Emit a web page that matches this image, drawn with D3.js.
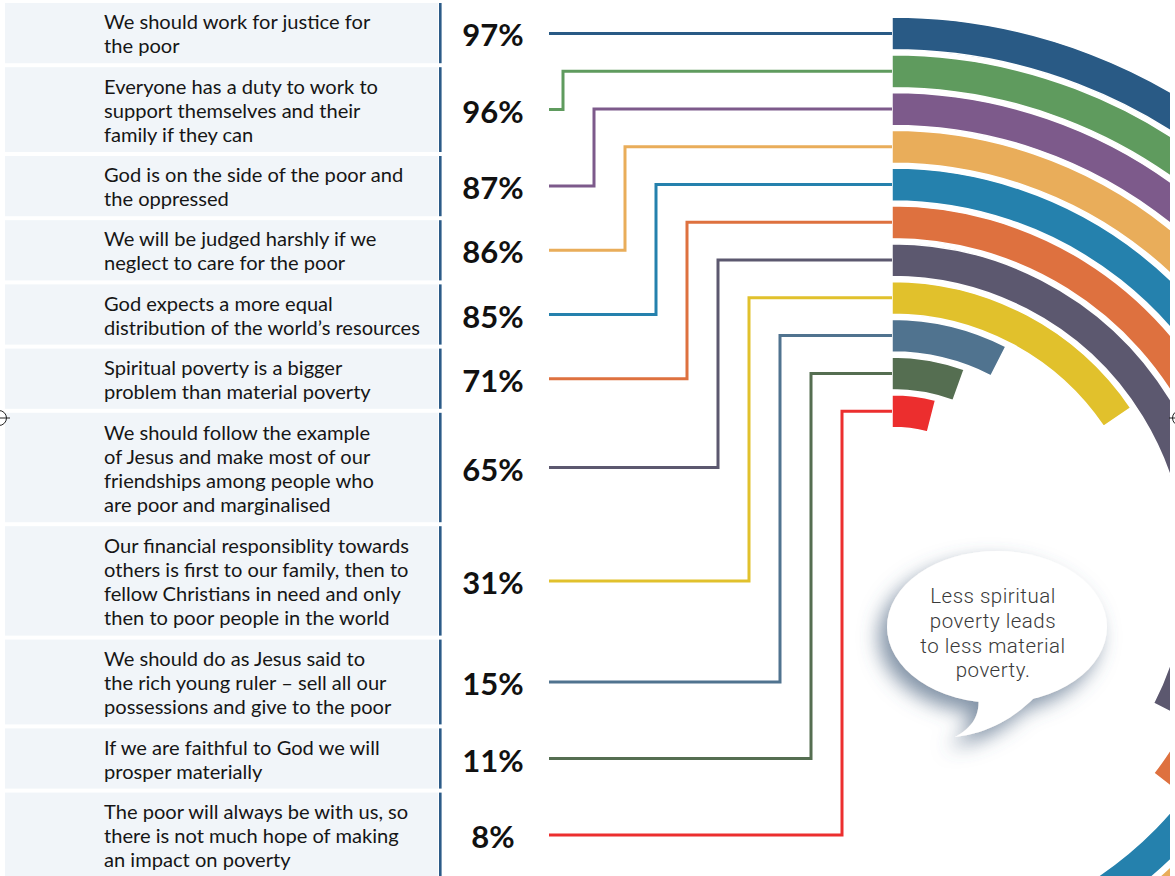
<!DOCTYPE html>
<html>
<head>
<meta charset="utf-8">
<script src="https://cdn.jsdelivr.net/npm/d3@7"></script>
<style>
  html, body { margin: 0; padding: 0; background: #fff; }
  svg { display: block; }
</style>
</head>
<body>
<svg id="chart" width="1175" height="876"></svg>
<script>
// ---------------- DATA ----------------
const categories = [
  ["We should work for justice for", "the poor"],
  ["Everyone has a duty to work to", "support themselves and their", "family if they can"],
  ["God is on the side of the poor and", "the oppressed"],
  ["We will be judged harshly if we", "neglect to care for the poor"],
  ["God expects a more equal", "distribution of the world’s resources"],
  ["Spiritual poverty is a bigger", "problem than material poverty"],
  ["We should follow the example", "of Jesus and make most of our", "friendships among people who", "are poor and marginalised"],
  ["Our financial responsiblity towards", "others is first to our family, then to", "fellow Christians in need and only", "then to poor people in the world"],
  ["We should do as Jesus said to", "the rich young ruler – sell all our", "possessions and give to the poor"],
  ["If we are faithful to God we will", "prosper materially"],
  ["The poor will always be with us, so", "there is not much hope of making", "an impact on poverty"]
];
const values = [97, 96, 87, 86, 85, 71, 65, 31, 15, 11, 8];
const colors = ["#295a85", "#5f9b5e", "#7d5a8b", "#e9ad5a", "#2581ad", "#de713f", "#5c586f", "#e1c12c", "#50738f", "#556e51", "#ec2e2e"];
const valueLabels = values.map(v => v + "%");
const bubbleLines = ["Less spiritual", "poverty leads", "to less material", "poverty."];

// ---------------- LAYOUT ----------------
const svg = d3.select("#chart");
const defs = svg.append("defs");
const n = categories.length;

// table rows
const lineH = 24;
let rowTop = 3;
const rows = categories.map((lines, i) => {
  const h = 24.6 * lines.length + 11;
  const r = { i, lines, y0: rowTop, h, cy: rowTop + h / 2 };
  rowTop += h + 4;
  return r;
});

const table = svg.append("g");
table.selectAll("rect.row").data(rows).join("rect")
  .attr("class", "row")
  .attr("x", 5).attr("y", d => d.y0).attr("width", 433).attr("height", d => d.h)
  .attr("fill", "#f1f5f9");
table.selectAll("rect.bar").data(rows).join("rect")
  .attr("class", "bar")
  .attr("x", 439).attr("y", d => d.y0).attr("width", 2.6).attr("height", d => d.h)
  .attr("fill", "#2c5b88");
table.selectAll("text.lbl").data(rows).join("text")
  .attr("class", "lbl")
  .attr("x", 104)
  .attr("y", d => d.cy - (d.lines.length - 1) * lineH / 2)
  .attr("font-family", "Lato, 'Open Sans', sans-serif")
  .attr("font-size", 20.1)
  .attr("fill", "#161616")
  .attr("dominant-baseline", "central")
  .each(function(d) {
    d3.select(this).selectAll("tspan").data(d.lines).join("tspan")
      .attr("x", 104).attr("dy", (t, j) => j === 0 ? 0 : lineH).text(t => t);
  });

// percentage labels
svg.append("g").selectAll("text").data(rows).join("text")
  .attr("x", 493).attr("y", d => d.cy + 1)
  .attr("text-anchor", "middle").attr("dominant-baseline", "central")
  .attr("font-family", "Lato, 'Open Sans', sans-serif")
  .attr("font-weight", 700).attr("font-size", 31).attr("fill", "#111")
  .text(d => valueLabels[d.i]);

// radial scales
const cx = 892, cy = 570;
const angle = d3.scaleLinear().domain([0, 100]).range([0, Math.PI]);
const radius = d3.scaleBand().domain(d3.range(n)).range([553, 142.4]).paddingInner(0.13).paddingOuter(0);
const bw = radius.bandwidth();
const arc = d3.arc()
  .innerRadius(i => radius(i))
  .outerRadius(i => radius(i) + bw)
  .startAngle(0)
  .endAngle(i => angle(values[i]));

defs.append("clipPath").attr("id", "clipR").append("rect")
  .attr("x", 0).attr("y", 0).attr("width", 1170).attr("height", 876);

const ringG = svg.append("g").attr("clip-path", "url(#clipR)")
  .append("g").attr("transform", `translate(${cx},${cy})`);
ringG.selectAll("path").data(d3.range(n)).join("path")
  .attr("d", i => arc(i))
  .attr("fill", i => colors[i])
  .attr("stroke", "#fff").attr("stroke-width", 1.5);

// connectors
svg.append("g").selectAll("path").data(rows).join("path")
  .attr("fill", "none")
  .attr("stroke", d => colors[d.i])
  .attr("stroke-width", 3)
  .attr("d", d => {
    const ringY = cy - (radius(d.i) + bw / 2);
    if (d.i === 0) return `M549,${ringY}H${cx}`;
    const xv = 563 + 31 * (d.i - 1);
    return `M549,${d.cy}H${xv}V${ringY}H${cx}`;
  });

// speech bubble
const flt = defs.append("filter").attr("id", "shadow")
  .attr("x", "-40%").attr("y", "-40%").attr("width", "180%").attr("height", "180%");
flt.append("feDropShadow").attr("dx", -8).attr("dy", 10).attr("stdDeviation", 10)
  .attr("flood-color", "#4e6580").attr("flood-opacity", 0.7);

const bx = 997, by = 627, rx = 110, ry = 76;
const bubble = svg.append("g").attr("filter", "url(#shadow)");
bubble.append("ellipse").attr("cx", bx).attr("cy", by).attr("rx", rx).attr("ry", ry).attr("fill", "#fff");
bubble.append("path").attr("fill", "#fff")
  .attr("d", `M978,695 C981,715 972,728 955,737 C990,733 1015,717 1035,697 Z`);

svg.append("text")
  .attr("x", 993).attr("y", 596)
  .attr("text-anchor", "middle").attr("dominant-baseline", "central")
  .attr("font-family", "Roboto, 'Open Sans', sans-serif")
  .attr("font-weight", 300).attr("font-size", 20.5).attr("letter-spacing", 0.5).attr("fill", "#3a3a3a")
  .selectAll("tspan").data(bubbleLines).join("tspan")
  .attr("x", 993).attr("dy", (t, j) => j === 0 ? 0 : 24.8).text(t => t);

// registration marks
const marks = svg.append("g").attr("fill", "none").attr("stroke", "#222").attr("stroke-width", 1);
[[-1, 418], [1180, 418]].forEach(([mx, my]) => {
  marks.append("circle").attr("cx", mx).attr("cy", my).attr("r", 7.5);
  marks.append("line").attr("x1", mx - 11).attr("x2", mx + 11).attr("y1", my).attr("y2", my);
  marks.append("line").attr("x1", mx).attr("x2", mx).attr("y1", my - 11).attr("y2", my + 11);
});
</script>
</body>
</html>
